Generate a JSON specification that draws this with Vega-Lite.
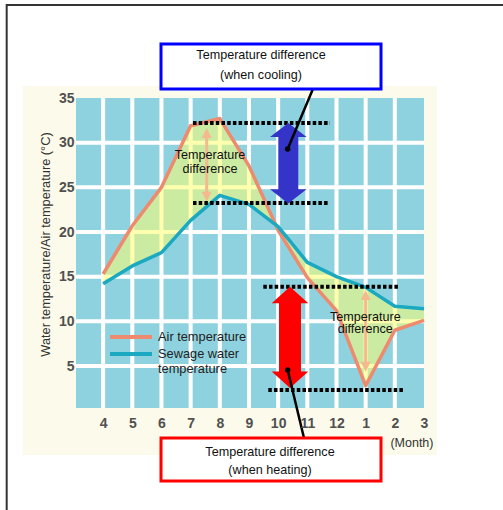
{
  "$schema": "https://vega.github.io/schema/vega-lite/v6.json",
  "width": 348,
  "height": 310,
  "autosize": "none",
  "padding": {"left": 76, "top": 98, "right": 79, "bottom": 102},
  "background": "#ffffff",
  "view": {"stroke": null},
  "config": {
    "font": "Liberation Sans, Arial, sans-serif",
    "text": {"font": "Liberation Sans, Arial, sans-serif"},
    "axis": {"grid": false, "ticks": false, "tickSize": 0, "domain": false, "labelFlush": false, "labelOverlap": false, "zindex": 1},
    "axisX": {"tickCount": 12},
    "axisY": {"tickCount": 7}
  },
  "datasets": {
    "temps": [
      {"idx": 0, "month": 4, "air": 15.3, "sewage": 14.2},
      {"idx": 1, "month": 5, "air": 20.7, "sewage": 16.2},
      {"idx": 2, "month": 6, "air": 25.0, "sewage": 17.7},
      {"idx": 3, "month": 7, "air": 31.9, "sewage": 21.3},
      {"idx": 4, "month": 8, "air": 32.7, "sewage": 24.1},
      {"idx": 5, "month": 9, "air": 27.4, "sewage": 23.1},
      {"idx": 6, "month": 10, "air": 20.2, "sewage": 20.6},
      {"idx": 7, "month": 11, "air": 14.9, "sewage": 16.6},
      {"idx": 8, "month": 12, "air": 11.2, "sewage": 15.0},
      {"idx": 9, "month": 1, "air": 2.8, "sewage": 13.8},
      {"idx": 10, "month": 2, "air": 9.0, "sewage": 11.7},
      {"idx": 11, "month": 3, "air": 10.1, "sewage": 11.4}
    ],
    "gridx": [{"gx": 0}, {"gx": 1}, {"gx": 2}, {"gx": 3}, {"gx": 4}, {"gx": 5}, {"gx": 6}, {"gx": 7}, {"gx": 8}, {"gx": 9}, {"gx": 10}],
    "gridy": [{"gy": 5}, {"gy": 10}, {"gy": 15}, {"gy": 20}, {"gy": 25}, {"gy": 30}],
    "regions": [
      {"region": "frame", "x1": -3.306, "x2": 14.3, "y1": 45.41, "y2": -12.3},
      {"region": "card", "x1": -2.757, "x2": 11.436, "y1": 36.34, "y2": -4.96},
      {"region": "plot", "x1": -0.93, "x2": 11, "y1": 35, "y2": 0.3}
    ],
    "thin": [
      {"season": "summer", "ax": 3.55, "lo": 23.39, "hi": 31.64},
      {"season": "winter", "ax": 9.0, "lo": 4.36, "hi": 13.51}
    ],
    "levels": [
      {"mode": "cooling", "lx1": 3.081, "lx2": 7.778, "level": 32.2},
      {"mode": "cooling", "lx1": 3.081, "lx2": 7.755, "level": 23.25},
      {"mode": "heating", "lx1": 5.491, "lx2": 10.177, "level": 13.88},
      {"mode": "heating", "lx1": 5.662, "lx2": 10.349, "level": 2.32}
    ],
    "arrows": [
      {"mode": "cooling", "ax": 6.348, "lo": 23.2, "hi": 32.2},
      {"mode": "heating", "ax": 6.406, "lo": 2.54, "hi": 13.88}
    ],
    "connectors": [
      {"mode": "cooling", "cx1": 7.185, "cy1": 35.95, "cx2": 6.327, "cy2": 29.29},
      {"mode": "heating", "cx1": 6.886, "cy1": -3.06, "cx2": 6.327, "cy2": 4.555}
    ],
    "boxes": [
      {"mode": "cooling", "bx1": 1.984, "bx2": 9.526, "by1": 41.04, "by2": 36.01},
      {"mode": "heating", "bx1": 1.984, "bx2": 9.526, "by1": -3.06, "by2": -7.87}
    ],
    "labels": [
      {"label": "Temperature difference", "tx": 5.412, "ty": 39.81},
      {"label": "(when cooling)", "tx": 5.412, "ty": 37.52},
      {"label": "Temperature difference", "tx": 5.721, "ty": -4.57},
      {"label": "(when heating)", "tx": 5.721, "ty": -6.64},
      {"label": "Temperature", "tx": 3.664, "ty": 28.62},
      {"label": "difference", "tx": 3.664, "ty": 27.0},
      {"label": "Temperature", "tx": 8.988, "ty": 10.52},
      {"label": "difference", "tx": 8.988, "ty": 9.11}
    ]
  },
  "layer": [
    {
      "data": {"name": "regions"},
      "transform": [{"filter": "datum.region == 'frame'"}],
      "mark": {"type": "rect", "fill": "transparent", "stroke": "#333333", "strokeWidth": 2},
      "encoding": {
        "x": {"field": "x1", "type": "quantitative", "scale": {"domain": [-0.93, 11], "nice": false, "zero": false}},
        "x2": {"field": "x2"},
        "y": {"field": "y1", "type": "quantitative", "scale": {"domain": [0.3, 35], "nice": false, "zero": false}},
        "y2": {"field": "y2"}
      }
    },
    {
      "data": {"name": "regions"},
      "transform": [{"filter": "datum.region == 'card'"}],
      "mark": {"type": "rect", "fill": "#fcfaea"},
      "encoding": {
        "x": {"field": "x1", "type": "quantitative"},
        "x2": {"field": "x2"},
        "y": {"field": "y1", "type": "quantitative"},
        "y2": {"field": "y2"}
      }
    },
    {
      "data": {"name": "regions"},
      "transform": [{"filter": "datum.region == 'plot'"}],
      "mark": {"type": "rect", "fill": "#8fd2df"},
      "encoding": {
        "x": {"field": "x1", "type": "quantitative"},
        "x2": {"field": "x2"},
        "y": {"field": "y1", "type": "quantitative"},
        "y2": {"field": "y2"}
      }
    },
    {
      "data": {"name": "gridx"},
      "mark": {"type": "rule", "color": "#ffffff", "strokeWidth": 4},
      "encoding": {"x": {"field": "gx", "type": "quantitative"}}
    },
    {
      "data": {"name": "gridy"},
      "mark": {"type": "rule", "color": "#ffffff", "strokeWidth": 4},
      "encoding": {"y": {"field": "gy", "type": "quantitative"}}
    },
    {
      "data": {"name": "temps"},
      "mark": {"type": "area", "fill": "#ffff70", "opacity": 0.55},
      "encoding": {
        "x": {
          "field": "idx", "type": "quantitative",
          "axis": {
            "zindex": 1,
            "values": [0, 1, 2, 3, 4, 5, 6, 7, 8, 9, 10, 11],
            "tickCount": 12,
            "labelExpr": "datum.value < 9 ? '' + (datum.value + 4) : '' + (datum.value - 8)",
            "grid": false, "ticks": false, "tickSize": 0, "domain": false,
            "labelFlush": false, "labelOverlap": false,
            "labelFont": "Liberation Sans, Arial, sans-serif",
            "labelFontWeight": "bold", "labelFontSize": 14, "labelColor": "#505050", "labelPadding": 8,
            "title": "(Month)",
            "titleFont": "Liberation Sans, Arial, sans-serif",
            "titleFontWeight": "normal", "titleFontSize": 12.5, "titleColor": "#333333",
            "titleX": 357, "titleY": 34, "titleAlign": "right", "titleBaseline": "middle"
          }
        },
        "y": {
          "field": "air", "type": "quantitative",
          "axis": {
            "zindex": 1,
            "values": [5, 10, 15, 20, 25, 30, 35],
            "grid": false, "ticks": false, "tickSize": 0, "domain": false,
            "labelFlush": false, "labelOverlap": false,
            "labelFont": "Liberation Sans, Arial, sans-serif",
            "labelFontWeight": "bold", "labelFontSize": 14, "labelColor": "#505050", "labelPadding": 2,
            "title": "Water temperature/Air temperature (°C)",
            "titleFont": "Liberation Sans, Arial, sans-serif",
            "titleFontWeight": "normal", "titleFontSize": 12.8, "titleColor": "#333333",
            "titlePadding": 6, "titleY": 146
          }
        },
        "y2": {"field": "sewage"}
      }
    },
    {
      "data": {"name": "thin"},
      "mark": {"type": "rule", "color": "#f5b98f", "strokeWidth": 3, "yOffset": -6, "y2Offset": 6},
      "encoding": {
        "x": {"field": "ax", "type": "quantitative"},
        "y": {"field": "lo", "type": "quantitative"},
        "y2": {"field": "hi"}
      }
    },
    {
      "data": {"name": "thin"},
      "mark": {"type": "point", "shape": "M0,0L1,2L-1,2Z", "size": 100, "filled": true, "opacity": 1, "color": "#f5b98f"},
      "encoding": {
        "x": {"field": "ax", "type": "quantitative"},
        "y": {"field": "hi", "type": "quantitative"}
      }
    },
    {
      "data": {"name": "thin"},
      "mark": {"type": "point", "shape": "M0,0L1,-2L-1,-2Z", "size": 100, "filled": true, "opacity": 1, "color": "#f5b98f"},
      "encoding": {
        "x": {"field": "ax", "type": "quantitative"},
        "y": {"field": "lo", "type": "quantitative"}
      }
    },
    {
      "data": {"name": "temps"},
      "transform": [{"fold": ["air", "sewage"], "as": ["series", "temp"]}],
      "mark": {"type": "line", "strokeWidth": 3.5, "strokeJoin": "round"},
      "encoding": {
        "x": {"field": "idx", "type": "quantitative"},
        "y": {"field": "temp", "type": "quantitative"},
        "color": {
          "field": "series", "type": "nominal",
          "scale": {"domain": ["air", "sewage"], "range": ["#ee8a6e", "#1ba9c1"]},
          "legend": {
            "orient": "none", "legendX": 47, "legendY": 231, "title": null,
            "symbolType": "M-3.5,0H3.5", "symbolSize": 144, "symbolStrokeWidth": 4,
            "labelFont": "Liberation Sans, Arial, sans-serif",
            "labelFontSize": 12.8, "labelColor": "#222222", "labelOffset": 19,
            "rowPadding": 1, "padding": 0,
            "labelExpr": "datum.value == 'air' ? 'Air temperature' : ['Sewage water', 'temperature']"
          }
        }
      }
    },
    {
      "data": {"name": "levels"},
      "mark": {"type": "rule", "color": "#000000", "strokeWidth": 4, "strokeDash": [3.5, 2.2]},
      "encoding": {
        "x": {"field": "lx1", "type": "quantitative"},
        "x2": {"field": "lx2"},
        "y": {"field": "level", "type": "quantitative"}
      }
    },
    {
      "data": {"name": "arrows"},
      "transform": [{"filter": "datum.mode == 'cooling'"}],
      "mark": {"type": "rule", "color": "#3434c8", "strokeWidth": 20, "strokeCap": "butt", "yOffset": -13, "y2Offset": 13},
      "encoding": {
        "x": {"field": "ax", "type": "quantitative"},
        "y": {"field": "lo", "type": "quantitative"},
        "y2": {"field": "hi"}
      }
    },
    {
      "data": {"name": "arrows"},
      "transform": [{"filter": "datum.mode == 'cooling'"}],
      "mark": {"type": "point", "shape": "M0,0L1,0.77L-1,0.77Z", "size": 1340, "filled": true, "opacity": 1, "color": "#3434c8"},
      "encoding": {
        "x": {"field": "ax", "type": "quantitative"},
        "y": {"field": "hi", "type": "quantitative"}
      }
    },
    {
      "data": {"name": "arrows"},
      "transform": [{"filter": "datum.mode == 'cooling'"}],
      "mark": {"type": "point", "shape": "M0,0L1,-0.77L-1,-0.77Z", "size": 1340, "filled": true, "opacity": 1, "color": "#3434c8"},
      "encoding": {
        "x": {"field": "ax", "type": "quantitative"},
        "y": {"field": "lo", "type": "quantitative"}
      }
    },
    {
      "data": {"name": "arrows"},
      "transform": [{"filter": "datum.mode == 'heating'"}],
      "mark": {"type": "rule", "color": "#ff0000", "strokeWidth": 22, "strokeCap": "butt", "yOffset": -15, "y2Offset": 15},
      "encoding": {
        "x": {"field": "ax", "type": "quantitative"},
        "y": {"field": "lo", "type": "quantitative"},
        "y2": {"field": "hi"}
      }
    },
    {
      "data": {"name": "arrows"},
      "transform": [{"filter": "datum.mode == 'heating'"}],
      "mark": {"type": "point", "shape": "M0,0L1,0.9L-1,0.9Z", "size": 1340, "filled": true, "opacity": 1, "color": "#ff0000"},
      "encoding": {
        "x": {"field": "ax", "type": "quantitative"},
        "y": {"field": "hi", "type": "quantitative"}
      }
    },
    {
      "data": {"name": "arrows"},
      "transform": [{"filter": "datum.mode == 'heating'"}],
      "mark": {"type": "point", "shape": "M0,0L1,-0.9L-1,-0.9Z", "size": 1340, "filled": true, "opacity": 1, "color": "#ff0000"},
      "encoding": {
        "x": {"field": "ax", "type": "quantitative"},
        "y": {"field": "lo", "type": "quantitative"}
      }
    },
    {
      "data": {"name": "connectors"},
      "mark": {"type": "rule", "color": "#000000", "strokeWidth": 2.5},
      "encoding": {
        "x": {"field": "cx1", "type": "quantitative"},
        "x2": {"field": "cx2"},
        "y": {"field": "cy1", "type": "quantitative"},
        "y2": {"field": "cy2"}
      }
    },
    {
      "data": {"name": "connectors"},
      "mark": {"type": "point", "shape": "circle", "size": 30, "filled": true, "opacity": 1, "color": "#000000"},
      "encoding": {
        "x": {"field": "cx2", "type": "quantitative"},
        "y": {"field": "cy2", "type": "quantitative"}
      }
    },
    {
      "data": {"name": "boxes"},
      "transform": [{"filter": "datum.mode == 'cooling'"}],
      "mark": {"type": "rect", "fill": "#ffffff", "stroke": "#0000ff", "strokeWidth": 3},
      "encoding": {
        "x": {"field": "bx1", "type": "quantitative"},
        "x2": {"field": "bx2"},
        "y": {"field": "by1", "type": "quantitative"},
        "y2": {"field": "by2"}
      }
    },
    {
      "data": {"name": "boxes"},
      "transform": [{"filter": "datum.mode == 'heating'"}],
      "mark": {"type": "rect", "fill": "#ffffff", "stroke": "#ff0000", "strokeWidth": 3},
      "encoding": {
        "x": {"field": "bx1", "type": "quantitative"},
        "x2": {"field": "bx2"},
        "y": {"field": "by1", "type": "quantitative"},
        "y2": {"field": "by2"}
      }
    },
    {
      "data": {"name": "labels"},
      "mark": {"type": "text", "align": "center", "baseline": "middle", "fontSize": 12.6, "color": "#111111"},
      "encoding": {
        "x": {"field": "tx", "type": "quantitative"},
        "y": {"field": "ty", "type": "quantitative"},
        "text": {"field": "label"}
      }
    }
  ]
}
